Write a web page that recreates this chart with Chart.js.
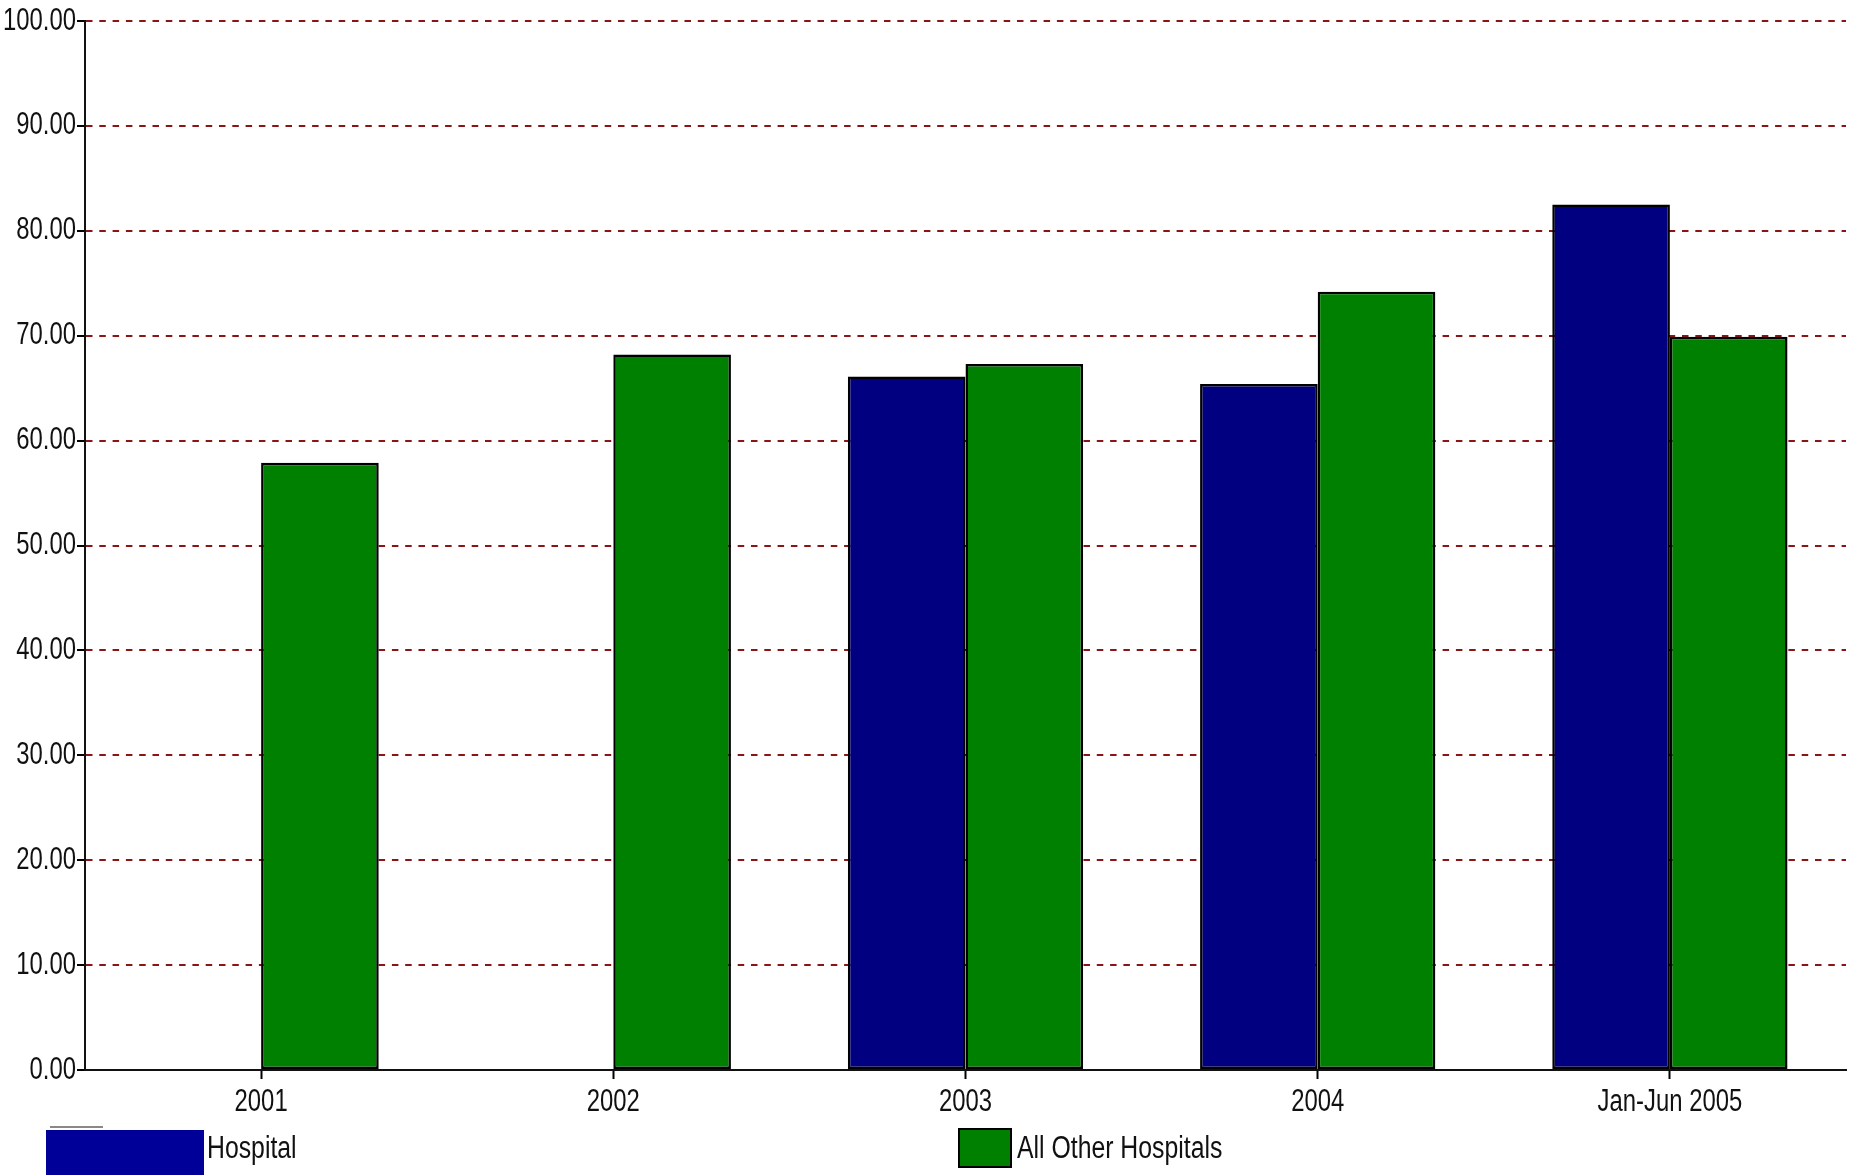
<!DOCTYPE html>
<html>
<head>
<meta charset="utf-8">
<script src="https://cdn.jsdelivr.net/npm/chart.js@4/dist/chart.umd.min.js"></script>
<style>
  html, body { margin: 0; padding: 0; background: #fff; width: 1857px; height: 1175px; overflow: hidden; }
  #wrap { position: absolute; left: 0; top: 0; width: 1857px; height: 1175px; }
  .lg { position: absolute; font-family: 'Liberation Sans', Arial, sans-serif; font-size: 31px; color: #111; line-height: 1; transform: scaleX(0.80); transform-origin: 0 0; white-space: nowrap; }
  .box { position: absolute; box-sizing: border-box; }
</style>
</head>
<body>
<div id="wrap"><canvas id="c" width="1857" height="1175"></canvas></div>
<div class="box" style="left:50px; top:1126px; width:53px; height:2px; background:#888;"></div>
<div class="box" style="left:46px; top:1130px; width:158px; height:60px; background:#000099;"></div>
<div class="lg" style="left:207px; top:1132px;">Hospital</div>
<div class="box" style="left:958px; top:1128px; width:54px; height:40px; background:#008000; border:2px solid #000;"></div>
<div class="lg" style="left:1017px; top:1132px;">All Other Hospitals</div>
<script>
const categories = ['2001', '2002', '2003', '2004', 'Jan-Jun 2005'];
const hospitalValues = [null, null, 66.1, 65.4, 82.5];
const otherValues = [57.9, 68.2, 67.3, 74.2, 69.9];
const yTicks = [0, 10, 20, 30, 40, 50, 60, 70, 80, 90, 100];

const FONT = "'Liberation Sans', Arial, sans-serif";
const TEXT_SX = 0.77;

// Narrow the canvas text horizontally around its anchor point (reference uses a condensed face)
const narrowText = {
  id: 'narrowText',
  beforeDraw(chart) {
    const ctx = chart.ctx;
    if (ctx.__narrowed) return;
    const orig = ctx.fillText;
    ctx.fillText = function (text, x, y, maxWidth) {
      this.save();
      this.translate(x, y);
      this.scale(TEXT_SX, 1);
      orig.call(this, text, 0, 0);
      this.restore();
    };
    ctx.__narrowed = true;
  }
};

new Chart(document.getElementById('c'), {
  type: 'bar',
  data: {
    labels: categories,
    datasets: [
      { label: 'Hospital', data: hospitalValues, backgroundColor: '#000080', borderColor: '#000000', borderWidth: 2.5, borderSkipped: false },
      { label: 'All Other Hospitals', data: otherValues, backgroundColor: '#008000', borderColor: '#000000', borderWidth: 2.5, borderSkipped: false }
    ]
  },
  plugins: [narrowText],
  options: {
    responsive: false,
    animation: false,
    devicePixelRatio: 1,
    layout: { padding: { left: 0, right: 11, top: 21, bottom: 0 } },
    datasets: { bar: { categoryPercentage: 0.668, barPercentage: 1.0 } },
    plugins: { legend: { display: false }, tooltip: { enabled: false } },
    scales: {
      x: {
        offset: true,
        grid: { display: true, drawOnChartArea: false, offset: false, drawTicks: true, tickLength: 9, tickColor: '#000', tickWidth: 2 },
        border: { display: true, color: '#111', width: 2 },
        ticks: { color: '#111', font: { family: FONT, size: 31 }, padding: 5, maxRotation: 0, autoSkip: false },
        afterFit: (s) => { s.height = 105; }
      },
      y: {
        min: 0, max: 100,
        afterBuildTicks: (s) => { s.ticks = yTicks.map(v => ({ value: v })); },
        grid: { color: '#8b1414', lineWidth: 2, drawTicks: true, tickLength: 8, tickColor: '#000', tickWidth: 2, tickBorderDash: [] },
        border: { display: true, color: '#111', width: 2, dash: [6.5, 6.8] },
        ticks: { color: '#111', font: { family: FONT, size: 31 }, padding: 1, callback: (v) => Number(v).toFixed(2) },
        afterFit: (s) => { s.width = 85; }
      }
    }
  }
});
</script>
</body>
</html>
